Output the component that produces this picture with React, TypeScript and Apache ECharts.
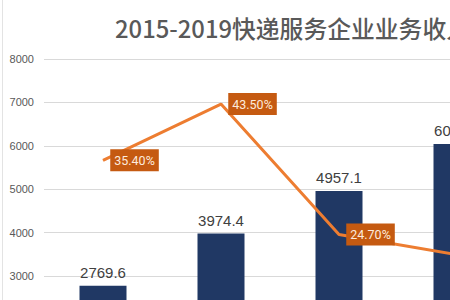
import React, { useEffect, useRef } from "react";
import * as echarts from "echarts";

const titleText = "2015-2019快递服务企业业务收入及增长率";
const years = ["2015", "2016", "2017", "2018", "2019"];
const revenue = [2769.6, 3974.4, 4957.1, 6038.4, 7497.8];
const growth = [35.4, 43.5, 24.7, 21.8, 24.2];

export default function App() {
  const ref = useRef<HTMLDivElement>(null);
  useEffect(() => {
    if (!ref.current) return;
    const chart = echarts.init(ref.current, undefined, { renderer: "svg" });
    chart.setOption({
      animation: false,
      backgroundColor: "#ffffff",
      title: {
        text: titleText,
        left: 110,
        top: 11,
        textStyle: {
          fontFamily: "Noto Sans CJK SC",
          fontSize: 23.8,
          fontWeight: 500,
          color: "#595959",
        },
      },
      graphic: [
        {
          type: "line",
          shape: { x1: 2.5, y1: 0, x2: 2.5, y2: 460 },
          style: { stroke: "#e3e3e3", lineWidth: 1 },
        },
      ],
      grid: { left: 44, top: 59, width: 590, height: 347 },
      xAxis: {
        type: "category",
        data: years,
        axisLine: { show: false },
        axisTick: { show: false },
        axisLabel: { show: false },
      },
      yAxis: [
        {
          type: "value",
          min: 0,
          max: 8000,
          interval: 1000,
          axisLine: { show: false },
          axisTick: { show: false },
          axisLabel: {
            color: "#595959",
            fontSize: 11,
            fontFamily: "Liberation Sans",
            margin: 10,
            formatter: (v: number) => (v >= 3000 ? String(v) : ""),
          },
          splitLine: { lineStyle: { color: "#d9d9d9", width: 1 } },
        },
        {
          type: "value",
          min: 0,
          max: 50,
          show: false,
          splitLine: { show: false },
        },
      ],
      series: [
        {
          type: "bar",
          data: revenue,
          barWidth: 47,
          itemStyle: { color: "#203864" },
          label: {
            show: true,
            position: "top",
            distance: 6,
            color: "#404040",
            fontSize: 15,
            fontFamily: "Liberation Sans",
          },
        },
        {
          type: "line",
          yAxisIndex: 1,
          data: growth,
          symbol: "circle",
          symbolSize: 0.5,
          showSymbol: true,
          itemStyle: { color: "#ED7D31" },
          lineStyle: { color: "#ED7D31", width: 3 },
          label: {
            show: true,
            position: "right",
            distance: 7,
            opacity: 1,
            formatter: (p: any) => Number(p.value).toFixed(2) + "%",
            backgroundColor: "#C55A11",
            color: "#FDEBDD",
            fontSize: 12.5,
            fontFamily: "Roboto",
            padding: [5, 4, 4, 4],
          },
        },
      ],
    });
    return () => chart.dispose();
  }, []);
  return (
    <div
      style={{
        position: "fixed",
        left: 0,
        top: 0,
        width: 450,
        height: 300,
        overflow: "hidden",
        background: "#fff",
      }}
    >
      <div ref={ref} style={{ width: 700, height: 460 }} />
    </div>
  );
}
